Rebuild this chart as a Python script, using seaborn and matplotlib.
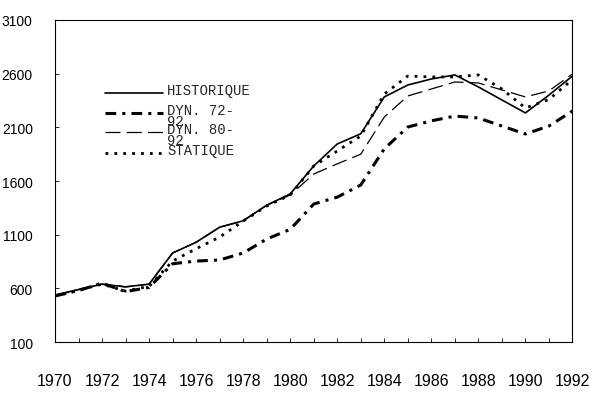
import matplotlib
matplotlib.use("Agg")
import matplotlib.pyplot as plt
from matplotlib.ticker import MultipleLocator
import seaborn as sns
import pandas as pd

years = list(range(1970, 1993))

historique = [538, 590, 640, 615, 640, 930, 1030, 1170, 1230, 1375, 1480,
              1740, 1945, 2040, 2383, 2494, 2550, 2588, 2476, 2355, 2234, 2400, 2578]
dyn_72_92 = [530, 580, 650, 570, 610, 830, 855, 865, 930, 1060, 1150,
             1386, 1450, 1563, 1900, 2103, 2160, 2205, 2187, 2112, 2038, 2112, 2252]
dyn_80_92 = [538, 590, 640, 615, 640, 930, 1030, 1170, 1230, 1375, 1470,
             1665, 1760, 1850, 2196, 2392, 2457, 2522, 2513, 2448, 2383, 2439, 2597]
statique = [530, 585, 640, 575, 620, 855, 970, 1078, 1227, 1367, 1470,
            1740, 1880, 2019, 2410, 2578, 2569, 2569, 2588, 2457, 2280, 2360, 2545]

series = {
    "HISTORIQUE": historique,
    "DYN. 72-\n92": dyn_72_92,
    "DYN. 80-\n92": dyn_80_92,
    "STATIQUE": statique,
}

# line styles for each series (dash pattern, width)
styles = {
    "HISTORIQUE": ("-", 1.2),
    "DYN. 72-\n92": ((0, (3.5, 2, 1, 2)), 2.2),
    "DYN. 80-\n92": ((0, (12, 5)), 0.9),
    "STATIQUE": ((0, (1, 2.2)), 2.0),
}

df = pd.DataFrame(
    [(y, name, v) for name, vals in series.items() for y, v in zip(years, vals)],
    columns=["year", "serie", "value"],
)

sns.set_style("ticks")
plt.rcParams["font.family"] = ["Liberation Sans", "DejaVu Sans"]

fig = plt.figure(figsize=(6.01, 4.10), dpi=100, facecolor="w")
ax = fig.add_axes([0.0915, 0.163, 0.861, 0.786])

for name in series:
    ls, lw = styles[name]
    sns.lineplot(
        ax=ax,
        data=df[df["serie"] == name],
        x="year",
        y="value",
        color="black",
        linewidth=lw,
        linestyle=ls,
        legend=False,
    )

ax.set_xlim(1970, 1992)
ax.set_ylim(100, 3100)
ax.xaxis.set_major_locator(MultipleLocator(2))
ax.xaxis.set_minor_locator(MultipleLocator(1))
ax.set_yticks(range(100, 3101, 500))
ax.tick_params(axis="both", which="both", direction="in", length=3, width=0.6,
               colors="black")
ax.tick_params(axis="x", which="major", pad=22, labelsize=11.5)
ax.tick_params(axis="y", pad=16, labelsize=10)
ax.set_xlabel("")
ax.set_ylabel("")
for sp in ax.spines.values():
    sp.set_visible(True)
    sp.set_linewidth(0.8)
    sp.set_color("black")

# Legend drawn by hand (labels overflow onto the next row like the original)
key_y = [0.773, 0.711, 0.652, 0.587]
for (name, (ls, lw)), ky in zip(styles.items(), key_y):
    ax.plot([0.097, 0.209], [ky, ky], transform=ax.transAxes,
            color="black", linestyle=ls, linewidth=lw)
    ax.text(0.217, ky + 0.030, name, transform=ax.transAxes, va="top",
            ha="left", family="Liberation Mono", fontsize=10, linespacing=0.72)

fig.savefig("out.png", dpi=100, facecolor="w")
plt.close()
